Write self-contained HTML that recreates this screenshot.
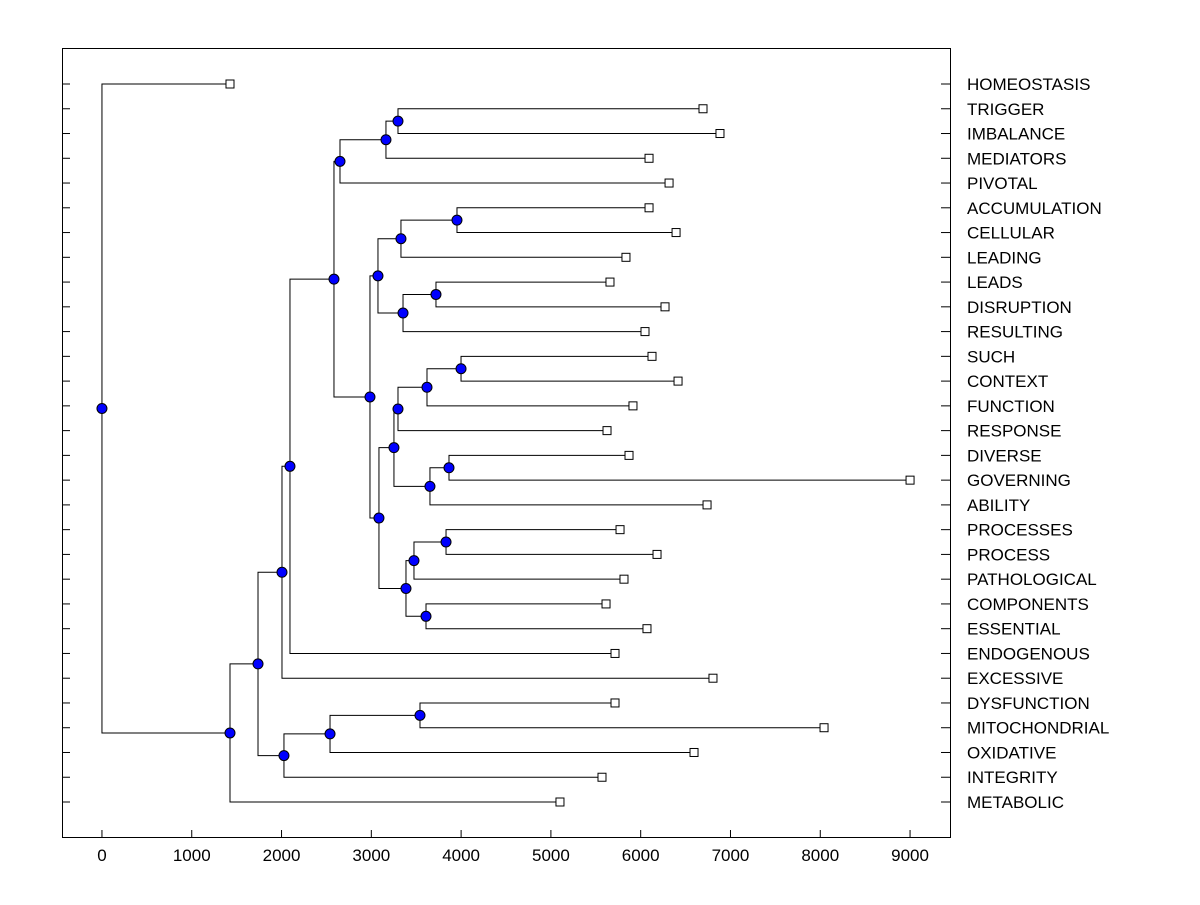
<!DOCTYPE html>
<html><head><meta charset="utf-8"><style>
body{margin:0;background:#fff}
svg text{font-family:"Liberation Sans",Arial,sans-serif;font-size:17px}
</style></head><body>
<svg id="chart" width="1200" height="900" xmlns="http://www.w3.org/2000/svg">
<rect x="0" y="0" width="1200" height="900" fill="#fff"/>
<g id="links"></g><g id="marks"></g><g id="axes"></g>
</svg>
<script>
const leafLabels=["HOMEOSTASIS","TRIGGER","IMBALANCE","MEDIATORS","PIVOTAL","ACCUMULATION","CELLULAR","LEADING","LEADS","DISRUPTION","RESULTING","SUCH","CONTEXT","FUNCTION","RESPONSE","DIVERSE","GOVERNING","ABILITY","PROCESSES","PROCESS","PATHOLOGICAL","COMPONENTS","ESSENTIAL","ENDOGENOUS","EXCESSIVE","DYSFUNCTION","MITOCHONDRIAL","OXIDATIVE","INTEGRITY","METABOLIC"];
const leafValues=[1426,6694,6883,6093,6316,6093,6394,5836,5658,6271,6048,6126,6416,5914,5625,5870,9000,6739,5770,6182,5814,5614,6070,5714,6805,5714,8042,6594,5569,5101];
const nodeNames=["L","K","I","Q","O","R","P","M","X","W","U","Y","V","S","AB","Z","AA","T","N","J","H","G","C","F","E","D","B","A","root"];
const nodeHeights=[3297,3163,2651,3954,3330,3720,3353,3074,3999,3620,3297,3865,3653,3252,3832,3475,3609,3386,3085,2985,2584,2094,2005,3542,2540,2027,1738,1426,0];
const nodeChildren=[["TRIGGER","IMBALANCE"],["L","MEDIATORS"],["K","PIVOTAL"],["ACCUMULATION","CELLULAR"],["Q","LEADING"],["LEADS","DISRUPTION"],["R","RESULTING"],["O","P"],["SUCH","CONTEXT"],["X","FUNCTION"],["W","RESPONSE"],["DIVERSE","GOVERNING"],["Y","ABILITY"],["U","V"],["PROCESSES","PROCESS"],["AB","PATHOLOGICAL"],["COMPONENTS","ESSENTIAL"],["Z","AA"],["S","T"],["M","N"],["I","J"],["H","ENDOGENOUS"],["G","EXCESSIVE"],["DYSFUNCTION","MITOCHONDRIAL"],["F","OXIDATIVE"],["E","INTEGRITY"],["C","D"],["B","METABOLIC"],["HOMEOSTASIS","A"]];
const xTicks=[0,1000,2000,3000,4000,5000,6000,7000,8000,9000];

const NS="http://www.w3.org/2000/svg";
const L=62,R=951,T=48,B=838;
const xMin=-445,xMax=9456;
const X=v=>L+(v-xMin)/(xMax-xMin)*(R-L);
const row0=84,rowN=802;
const Y=i=>row0+i*(rowN-row0)/(leafLabels.length-1);
function mk(tag,attrs,parent){const e=document.createElementNS(NS,tag);for(const k in attrs)e.setAttribute(k,attrs[k]);parent.appendChild(e);return e;}
const links=document.getElementById('links'),marks=document.getElementById('marks'),axes=document.getElementById('axes');
const pos={};
leafLabels.forEach((n,i)=>{pos[n]={x:X(leafValues[i]),y:Y(i)};});
nodeNames.forEach((n,i)=>{const a=pos[nodeChildren[i][0]],b=pos[nodeChildren[i][1]];pos[n]={x:X(nodeHeights[i]),y:(a.y+b.y)/2};});
nodeNames.forEach((n,i)=>{
  const p=pos[n];
  nodeChildren[i].forEach(c=>{const q=pos[c];
    const pl=mk('polyline',{points:`${p.x},${p.y} ${p.x},${q.y} ${q.x},${q.y}`,fill:'none',stroke:'#000','stroke-width':1},links);
    
    
  });
});
leafLabels.forEach((n,i)=>{const p=pos[n];
  const r=mk('rect',{x:p.x-4,y:p.y-4,width:8,height:8,fill:'#fff',stroke:'#000','stroke-width':1},marks);
  
  
  mk('line',{x1:L,y1:p.y,x2:L+8,y2:p.y,stroke:'#000'},axes);
  mk('line',{x1:R-10,y1:p.y,x2:R,y2:p.y,stroke:'#000'},axes);
  const t=mk('text',{x:967,y:p.y+6},axes);t.textContent=n;
  
  
});
nodeNames.forEach((n,i)=>{const p=pos[n];
  const c=mk('circle',{cx:p.x,cy:p.y,r:5,fill:'#0000ff',stroke:'#000','stroke-width':1},marks);
  
  
});
const fr=mk('rect',{x:L+0.5,y:T+0.5,width:R-L-1,height:B-T-1,fill:'none',stroke:'#000'},axes);


xTicks.forEach(v=>{const x=X(v);
  mk('line',{x1:x,y1:B,x2:x,y2:B-8,stroke:'#000'},axes);
  const t=mk('text',{x:x,y:861,'text-anchor':'middle'},axes);t.textContent=v;
  
  
});
</script>
</body></html>
